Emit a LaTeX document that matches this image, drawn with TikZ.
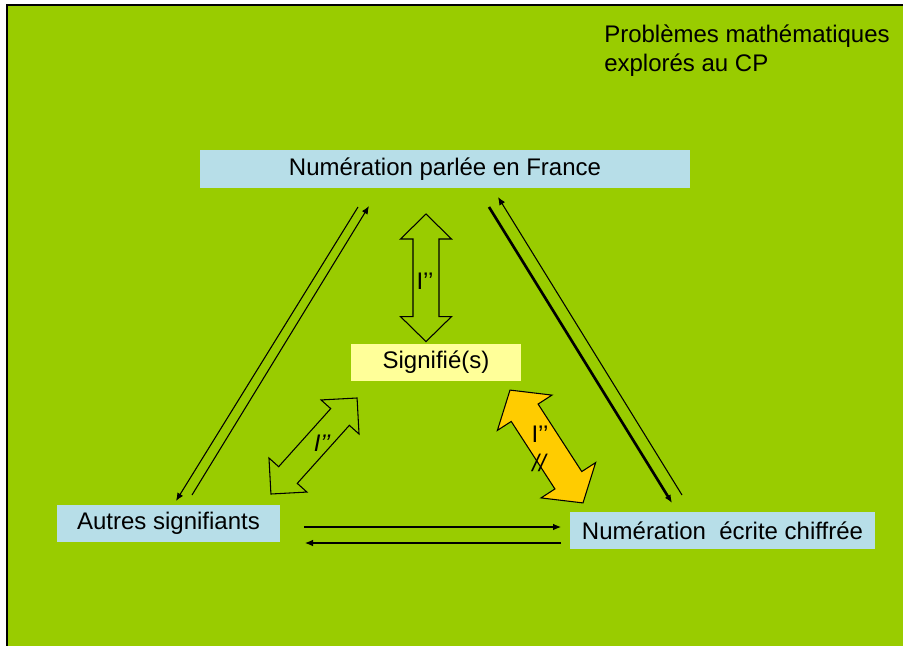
\documentclass[tikz,border=0pt]{standalone}
\usepackage{fontspec}
\setmainfont{Liberation Sans}
\usetikzlibrary{arrows.meta, positioning}

\definecolor{fondvert}{HTML}{99CC00}
\definecolor{bleuclair}{HTML}{B7DEE8}
\definecolor{jaunepale}{HTML}{FFFF99}
\definecolor{jauneor}{HTML}{FFCC00}

\tikzset{
  texte/.style={font=\fontsize{18}{21.75}\selectfont},
  boite/.style={texte, fill=bleuclair, inner sep=0pt, minimum height=28pt},
  etiq/.style={texte, inner sep=0pt},
  fleche/.style={line width=0.8pt, -{Latex[length=6pt,width=5pt]}},
  flechegrasse/.style={line width=2pt, -{Latex[length=6pt,width=5pt]}},
  bloc/.style={draw=black, line width=0.8pt, line join=miter},
}

% double block arrow: [style]{centre}{angle}{half length}{half head}{half shaft}{head length}
\newcommand{\flechedouble}[7][]{%
  \begin{scope}[shift={(#2)}, rotate=#3]
    \draw[bloc, #1] (-#4,0) -- (-#4+#7,#5) -- (-#4+#7,#6) -- (#4-#7,#6) -- (#4-#7,#5) -- (#4,0)
      -- (#4-#7,-#5) -- (#4-#7,-#6) -- (-#4+#7,-#6) -- (-#4+#7,-#5) -- cycle;
  \end{scope}}

\begin{document}
\begin{tikzpicture}[x=0.75pt, y=-0.75pt]
    \useasboundingbox (0,0) rectangle (903,646);

    % Background
    \fill[fondvert] (7,5) rectangle (903,646);
    \draw[line width=1pt] (7,646) -- (7,5) -- (903,5);

    % Title
    \node[etiq, align=left, anchor=north west] (titre) at (604,25)
        {Problèmes mathématiques\\explorés au CP};

    % Boxes
    \node[boite, minimum width=367.5pt] (parlee) at (445,169) {Numération parlée en France};
    \node[boite, fill=jaunepale, minimum width=127.5pt] (signifie) at (436,362.5) {Signifié(s)};
    \node[boite, minimum width=167.25pt] (autres) at (168.5,523.5) {Autres signifiants};
    \node[boite, minimum width=228.75pt] (ecrite) at (722.5,530.5) {Numération\ \ écrite chiffrée};

    % Arrow ends
    \coordinate (g1) at (358,207);
    \coordinate (g2) at (176,501);
    \coordinate (g3) at (192,495);
    \coordinate (g4) at (369,206);
    \coordinate (d1) at (489,207);
    \coordinate (d2) at (672,503);
    \coordinate (d3) at (682,495);
    \coordinate (d4) at (498,197);
    \coordinate (h1) at (304,527);
    \coordinate (h2) at (561,527);
    \coordinate (h3) at (561,543);
    \coordinate (h4) at (305,543);

    % Left side
    \draw[fleche] (g1) -- (g2);
    \draw[fleche] (g3) -- (g4);

    % Right side
    \draw[flechegrasse] (d1) -- (d2);
    \draw[fleche] (d3) -- (d4);

    % Bottom
    \draw[fleche] (h1) -- (h2);
    \draw[fleche] (h3) -- (h4);

    % Block arrows
    \flechedouble{426,277.8}{90}{63.8}{25.5}{13}{25}
    \flechedouble{314,446}{48.1}{64.5}{25.5}{12.5}{25.5}
    \flechedouble[fill=jauneor]{546.5,446.5}{-57.1}{67.2}{32.5}{16}{27}

    % Labels
    \node[etiq] (lhaut) at (425,281.5) {I’’};
    \node[etiq, font=\fontsize{18}{21.75}\selectfont\itshape] (lgauche) at (322,443.5) {I’’};
    \node[etiq] (ldroite) at (540,434) {I’’};
    \node[etiq, font=\fontsize{18}{21.75}\selectfont\itshape] (lbarre) at (539,463) {//};
\end{tikzpicture}
\end{document}
